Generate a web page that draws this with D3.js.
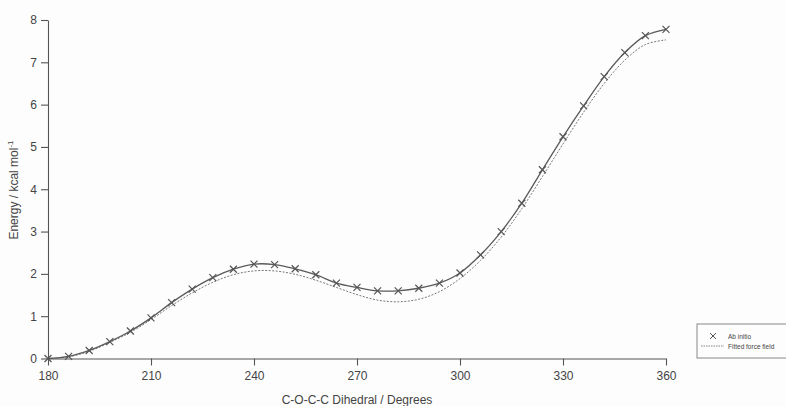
<!DOCTYPE html>
<html>
<head>
<meta charset="utf-8">
<script src="https://cdn.jsdelivr.net/npm/d3@7"></script>
<style>
  body { margin: 0; background: #fdfdfd; }
  svg { display: block; font-family: "Liberation Sans", Arial, sans-serif; }
  .axis path, .axis line { stroke: #555; stroke-width: 1.1; }
  .axis text { fill: #444; font-size: 12px; font-family: "Liberation Sans", Arial, sans-serif; }
</style>
</head>
<body>
<div id="chart"></div>
<script>
// dihedral angles (degrees)
var angles = [180, 186, 192, 198, 204, 210, 216, 222, 228, 234, 240, 246, 252, 258, 264, 270,
              276, 282, 288, 294, 300, 306, 312, 318, 324, 330, 336, 342, 348, 354, 360];
// Ab initio energies (kcal/mol)
var abInitio = [0, 0.05, 0.19, 0.40, 0.65, 0.96, 1.32, 1.64, 1.91, 2.11, 2.23, 2.22, 2.12, 1.98,
                1.78, 1.68, 1.60, 1.60, 1.66, 1.78, 2.02, 2.45, 3.00, 3.67, 4.46, 5.24, 5.97,
                6.66, 7.23, 7.63, 7.78];
// Fitted force field energies (kcal/mol)
var fitted = [0, 0.04, 0.17, 0.38, 0.62, 0.92, 1.25, 1.55, 1.80, 1.98, 2.07, 2.07, 1.99, 1.85,
              1.68, 1.51, 1.38, 1.34, 1.40, 1.58, 1.89, 2.32, 2.87, 3.54, 4.30, 5.07, 5.82,
              6.50, 7.05, 7.42, 7.53];
var xTicks = [180, 210, 240, 270, 300, 330, 360];
var yTicks = [0, 1, 2, 3, 4, 5, 6, 7, 8];

var width = 786, height = 406;
var svg = d3.select("#chart").append("svg")
  .attr("width", width)
  .attr("height", height);

var x = d3.scaleLinear().domain([180, 360]).range([48, 666]);
var y = d3.scaleLinear().domain([0, 8]).range([358.5, 20]);

// axes
svg.append("g")
  .attr("class", "x-axis axis")
  .attr("transform", "translate(0," + y(0) + ")")
  .call(d3.axisBottom(x).tickValues(xTicks).tickSize(7).tickSizeOuter(0).tickPadding(6))
  .call(g => g.select(".domain").attr("stroke", "#555"));

svg.append("g")
  .attr("class", "y-axis axis")
  .attr("transform", "translate(" + x(180) + ",0)")
  .call(d3.axisLeft(y).tickValues(yTicks).tickSize(7).tickSizeOuter(0).tickPadding(4))
  .call(g => g.select(".domain").attr("stroke", "#555"));

// axis labels
svg.append("text")
  .attr("x", 357)
  .attr("y", 404)
  .attr("text-anchor", "middle")
  .attr("fill", "#444")
  .attr("font-size", 12)
  .text("C-O-C-C Dihedral / Degrees");

var yl = svg.append("text")
  .attr("transform", "translate(18,190) rotate(-90)")
  .attr("text-anchor", "middle")
  .attr("fill", "#444")
  .attr("font-size", 12);
yl.append("tspan").text("Energy / kcal mol");
yl.append("tspan").attr("dy", -5).attr("font-size", 8).text("-1");

// lines
var lineAb = d3.line()
  .x((d, i) => x(angles[i]))
  .y(d => y(d))
  .curve(d3.curveCatmullRom);

svg.append("path")
  .datum(fitted)
  .attr("fill", "none")
  .attr("stroke", "#777")
  .attr("stroke-width", 1)
  .attr("stroke-dasharray", "2,1.5")
  .attr("d", lineAb);

svg.append("path")
  .datum(abInitio)
  .attr("fill", "none")
  .attr("stroke", "#5a5a5a")
  .attr("stroke-width", 1.3)
  .attr("d", lineAb);

// crosses
var cross = "M-3.5,-3.5L3.5,3.5M-3.5,3.5L3.5,-3.5";
svg.selectAll(".pt")
  .data(abInitio)
  .enter()
  .append("path")
  .attr("class", "pt")
  .attr("transform", (d, i) => "translate(" + x(angles[i]) + "," + y(d) + ")")
  .attr("d", cross)
  .attr("stroke", "#555")
  .attr("stroke-width", 1.2)
  .attr("fill", "none");

// legend
var lg = svg.append("g").attr("transform", "translate(697,324)");
lg.append("rect")
  .attr("width", 100)
  .attr("height", 34)
  .attr("fill", "#fdfdfd")
  .attr("stroke", "#888")
  .attr("stroke-width", 1);
lg.append("path")
  .attr("transform", "translate(16,12)")
  .attr("d", "M-3,-3L3,3M-3,3L3,-3")
  .attr("stroke", "#555")
  .attr("stroke-width", 1);
lg.append("line")
  .attr("x1", 4).attr("x2", 27)
  .attr("y1", 22).attr("y2", 22)
  .attr("stroke", "#666")
  .attr("stroke-width", 0.8)
  .attr("stroke-dasharray", "1.5,1");
lg.append("text")
  .attr("x", 31).attr("y", 14.5)
  .attr("font-size", 6.5)
  .attr("fill", "#444")
  .text("Ab initio");
lg.append("text")
  .attr("x", 31).attr("y", 24.5)
  .attr("font-size", 6.5)
  .attr("fill", "#444")
  .text("Fitted force field");
</script>
</body>
</html>
